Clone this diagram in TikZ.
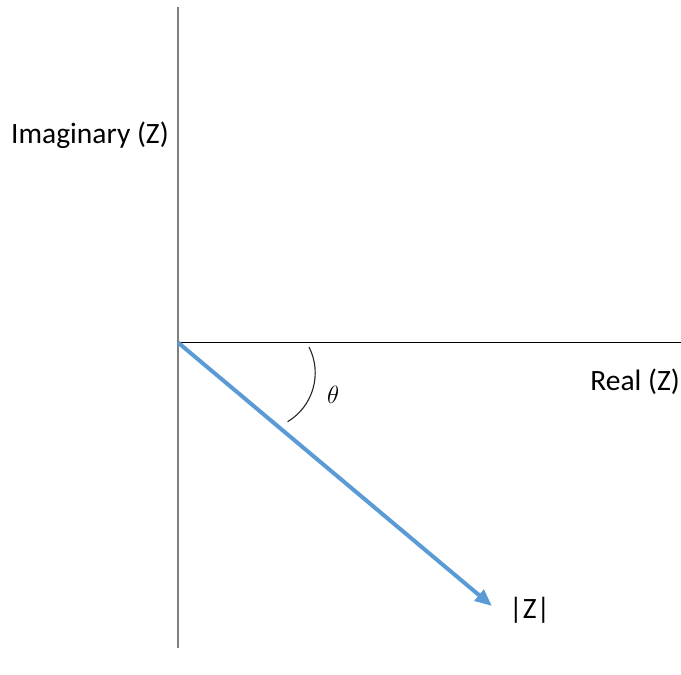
\documentclass[tikz,border=0pt]{standalone}
\usepackage{fontspec}
\setmainfont{Carlito}
\usetikzlibrary{arrows.meta}
\definecolor{vecblue}{HTML}{5B9BD5}
\definecolor{axgray}{HTML}{7F7F7F}
\begin{document}
\begin{tikzpicture}[x=1pt,y=-1pt,
  lbl/.style={font=\fontsize{29.5}{33}\selectfont, inner sep=0pt, anchor=base west},
  vecline/.style={draw=vecblue, line width=4pt, -{Triangle[length=17pt,width=14pt]}},
  vaxis/.style={draw=axgray, line width=1.6pt},
  haxis/.style={draw=black, line width=1.3pt},
  anglearc/.style={draw=black!85, line width=1.1pt}]
\useasboundingbox (0,0) rectangle (681,675);
\coordinate (O) at (178,342.5);
\coordinate (vtop) at (178,7);
\coordinate (vbot) at (178,648);
\coordinate (hend) at (681,342.5);
\coordinate (tip) at (492,606);
\coordinate (arcstart) at (309,347);
\draw[vaxis] (vtop) -- (vbot);
\draw[haxis] (O) -- (hend);
\draw[vecline] (O) -- (tip);
\draw[anglearc] (arcstart) arc[start angle=27, end angle=-59, radius=57pt];
\node[lbl] (imag) at (11,143) {Imaginary (Z)};
\node[lbl, anchor=base east] (real) at (680,390) {Real (Z)};
\node[lbl] (mag) at (509,618) {|Z|};
\node[inner sep=0pt, anchor=base west, font=\fontsize{26}{30}\selectfont] (theta) at (327,403) {$\theta$};
\end{tikzpicture}
\end{document}
